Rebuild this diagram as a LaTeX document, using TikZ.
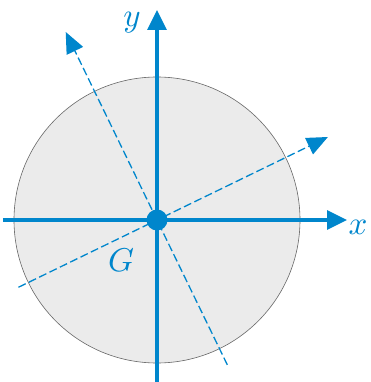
\documentclass[tikz,border=0pt]{standalone}
\usepackage{amsmath,amssymb}
\usetikzlibrary{
  calc,
  arrows.meta,
  positioning
}
\definecolor{axisblue}{RGB}{0,134,204}

\begin{document}
\begin{tikzpicture}[
            x=1pt, y=1pt,
            disc/.style={draw=black!60, line width=0.6pt, fill=black!8},
            axis/.style={draw=axisblue, line width=3.2pt, -{Triangle[length=20pt,width=19pt]}},
            principal/.style={draw=axisblue, line width=1.3pt, dash pattern=on 8pt off 3.5pt, -{Triangle[length=21pt,width=18pt]}},
            centre/.style={circle, fill=axisblue, inner sep=0pt, minimum size=21pt},
            lbl/.style={text=axisblue, inner sep=0pt, scale=3.3}
        ]
        \useasboundingbox (-157,-162) rectangle (213,220);

        % Disque
        \path[disc] (0,0) circle (143);

        % Points
        \coordinate (xstart) at (-154,0);
        \coordinate (xend) at (190,0);
        \coordinate (ystart) at (0,-170);
        \coordinate (yend) at (0,210);
        \coordinate (ustart) at (205.9:154);
        \coordinate (uend) at (25.9:190);
        \coordinate (vstart) at (295.9:161);
        \coordinate (vend) at (115.9:209);

        % Axes principaux
        \draw [principal] (ustart) -- (uend);
        \draw [principal] (vstart) -- (vend);

        % Axes x, y
        \draw [axis] (xstart) -- (xend);
        \draw [axis] (ystart) -- (yend);
        \node (G) [centre] at (0,0) {};

        % Etiquettes
        \node (xlabel) [lbl] at (201,-7) {$x$};
        \node (ylabel) [lbl] at (-25,197) {$y$};
        \node (Glabel) [lbl] at (-36,-40) {$G$};

    \end{tikzpicture}
\end{document}
